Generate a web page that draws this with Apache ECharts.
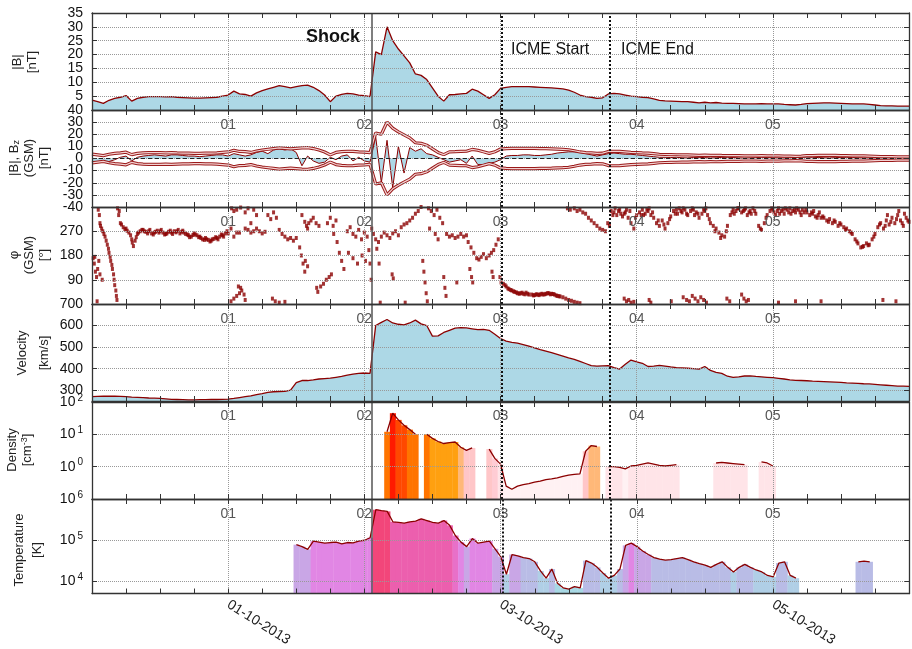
<!DOCTYPE html>
<html>
<head>
<meta charset="utf-8">
<script src="https://cdn.jsdelivr.net/npm/echarts@6.0.0/dist/echarts.min.js"></script>
<style>
  html, body { margin: 0; padding: 0; background: #fff; }
  #chart { width: 912px; height: 649px; }
</style>
</head>
<body>
<div id="chart"></div>
<script>
// hourly samples, hour 0 = 30-09-2013 00:00 UT
const bMag = [
  3.6, 3.0, 2.4, 3.5, 4.2, 4.6, 5.2, 3.2, 4.2, 4.6, 4.8, 4.8,
  4.8, 4.7, 4.8, 4.6, 4.5, 4.4, 4.3, 4.3, 4.4, 4.5, 4.6, 5.0,
  5.4, 6.8, 5.8, 5.6, 5.0, 6.2, 7.0, 7.6, 8.2, 8.8, 8.4, 8.0,
  8.4, 8.8, 9.0, 8.2, 7.0, 5.4, 3.0, 5.0, 5.6, 6.0, 5.8, 5.4,
  5.2, 4.8, 21, 20, 30, 25, 22, 19.5, 17, 13, 12.5, 11,
  8, 5, 3.2, 5.5, 5.6, 5.8, 6, 7.5, 6.8, 5.5, 4.2, 5.5,
  7.8, 8.2, 8.4, 8.4, 8.4, 8.4, 8.3, 8.2, 8.1, 8.0, 7.8, 7.6,
  7.2, 6.4, 5.4, 4.8, 4.6, 4.2, 4.4, 5.8, 6.0, 5.8, 5.4, 5.0,
  4.8, 4.6, 4.5, 4.0, 3.5, 3.3, 3.2, 3.1, 3.0, 3.0, 2.8, 2.6,
  2.8, 2.6, 2.7, 2.5, 2.4, 2.4, 2.3, 2.2, 2.2, 2.2, 2.3, 2.2,
  2.2, 2.2, 2.0, 1.9, 1.8, 2.0, 2.3, 2.4, 2.5, 2.6, 2.6, 2.5,
  2.4, 2.3, 2.2, 2.2, 2.2, 2.0, 1.8, 1.6, 1.5, 1.5, 1.4, 1.4,
  1.4
];
const bz = [
  -3, -2.8, -2.3, -2.5, -1, 1, 2, -2, 1, 2, 2.5, 3,
  2.5, 2, 3, 3, 2.5, 2, 2, 1.5, 2, 2.5, 3, 3,
  2, 4, 3, 2, 3, 5, 6, 4, 7, 8, 7, 8,
  5, -6, 2, -2, -4, -3, 1, -1, 2, 3, -2, 1,
  -2, -3, 18, -20, 15, -24, 10, -12, 9, 6, 8, 4,
  3, 1, -1, -3, -2, -1, -4, 2, -5, -5, -4, -3,
  -1, 2, 2.5, 2.5, 3, 3, 2.5, 2.5, 3, 3.5, 4.5, 5,
  5.5, 5.5, 5, 4, 3, 2, 3, 4, 4.5, 4, 3.5, 3.5,
  3, 2.5, 2, 1.5, 1, 1, 0.8, 1, 0.6, 0.5, 0.8, 1,
  0.7, 0.5, 0.6, 0.9, 1, 0.8, 0.5, 0.3, 0.5, 0.7, 1, 0.8,
  0.6, 0.5, 0.4, 0.6, 0.8, 1, 1.2, 1, 0.8, 0.6, 0.5, 0.7,
  0.9, 1, 0.8, 0.6, 0.5, 0.4, 0.5, 0.7, 0.8, 0.6, 0.5, 0.4,
  0.5
];
const velocity = [
  270, 271, 272, 273, 272, 271, 270, 268, 267, 266, 264, 263,
  262, 260, 258, 257, 256, 255, 255, 256, 256, 257, 257, 258,
  259, 262, 266, 270, 274, 280, 284, 290, 293, 294, 295, 300,
  335, 345, 345, 348, 352, 354, 356, 360, 364, 370, 375, 378,
  380, 378, 600, 615, 628, 612, 606, 603, 612, 625, 608, 600,
  551, 552, 568, 578, 588, 590, 589, 585, 581, 582, 578, 560,
  540, 528, 522, 518, 512, 505, 496, 488, 481, 474, 466, 458,
  450, 443, 434, 424, 414, 412, 413, 414, 405, 398, 420, 440,
  432, 425, 410, 412, 415, 412, 408, 405, 404, 402, 400, 398,
  410, 392, 383, 378, 365, 360, 362, 366, 367, 364, 362, 360,
  358, 355, 352, 348, 346, 345, 344, 342, 341, 340, 339, 338,
  336, 334, 333, 332, 330, 329, 327, 325, 323, 321, 319, 319,
  318
];
const density = [
  null, null, null, null, null, null, null, null, null, null, null, null,
  null, null, null, null, null, null, null, null, null, null, null, null,
  null, null, null, null, null, null, null, null, null, null, null, null,
  null, null, null, null, null, null, null, null, null, null, null, null,
  null, null, null, null, 12, 45, 28, 19, 14, 10, null, 10,
  7.5, 6, 5.2, 5.5, 5.8, 4, 3.2, 3.8, null, null, 3.5, 1.8,
  1.2, 0.25, 0.2, 0.25, 0.28, 0.3, 0.33, 0.36, 0.4, 0.42, 0.45, 0.5,
  0.55, 0.58, 0.6, 3.0, 4.5, 4.2, null, 1.0, 1.0, 0.95, 0.85, 1.05,
  1.1, 1.2, 1.3, 1.2, 1.1, 1.05, 1.1, 1.15, null, null, null, null,
  null, null, 1.3, 1.35, 1.3, 1.25, 1.2, 1.15, null, null, 1.4, 1.3,
  1.05, null, null, null, null, null, null, null, null, null, null, null,
  null, null, null, null, null, null, null, null, null, null, null, null,
  null
];
const temperature = [
  null, null, null, null, null, null, null, null, null, null, null, null,
  null, null, null, null, null, null, null, null, null, null, null, null,
  null, null, null, null, null, null, null, null, null, null, null, null,
  78000, 70000, 60000, 95000, 90000, 85000, 88000, 90000, 82000, 88000, 86000, 95000,
  100000, 115000, 550000, 520000, 500000, 280000, 270000, 260000, 280000, 290000, 330000, 300000,
  270000, 260000, 300000, 230000, 130000, 90000, 70000, 110000, 85000, 90000, 95000, 62000,
  40000, 15000, 45000, 42000, 38000, 36000, 30000, 18000, 12000, 20000, 9000, 7000,
  6500, 7500, 7000, 32000, 28000, 22000, 16000, 12000, 14000, 20000, 75000, 85000,
  70000, 55000, 45000, 38000, 35000, 33000, 34000, 36000, 38000, 34000, 30000, 27000,
  25000, 22000, 26000, 30000, 22000, 17000, 22000, 26000, 22000, 19000, 17000, 14000,
  13000, 28000, 30000, 14000, 12000, null, null, null, null, null, null, null,
  null, null, null, 30000, 31000, 30000, null, null, null, null, null, null,
  null
];
// [hour, degrees]
const phiPoints = [
  [0.2,170],[0.4,150],[0.6,120],[0.8,100],[1.0,130],[1.2,160],[1.4,110],[0.5,175],[0.9,10],[1.1,350],[1.3,330],[1.4,300],
  [1.5,290],[1.9,270],[2.3,250],[2.7,220],[3.0,190],[3.3,160],[3.6,130],[3.9,90],[4.2,50],[4.4,15],[1.8,90],
  [1.7,280],[2.1,260],[2.5,235],[2.9,205],[3.2,175],[3.5,145],[3.8,110],[4.0,70],[4.3,30],
  [4.5,355],[4.7,330],[5.0,300],[5.5,285],[6.0,280],[6.5,265],[7.0,240],[7.3,215],[7.6,235],[8.0,260],[8.5,270],
  [9.0,275],[9.5,268],[10,270],[10.5,262],[11,265],[11.5,272],[12,270],[12.5,265],[13,260],[13.5,268],[14,265],
  [14.5,270],[15,270],[15.5,262],[16,272],[16.5,260],[17,255],[17.5,250],[18,262],[18.5,255],[19,250],[19.5,240],
  [20,245],[20.5,238],[21,235],[21.5,242],[22,245],[22.5,250],[23,255],[23.5,262],[24,262],[24.5,280],[25,250],
  [25.5,265],[26,265],[27,280],[28,300],
  [4.8,345],[5.2,295],[5.8,278],[6.2,272],[6.8,255],[7.1,228],[7.8,248],[8.2,265],[8.8,275],[9.2,270],[9.8,262],
  [10.2,275],[10.8,258],[11.2,268],[11.8,265],[12.2,275],[12.8,258],[13.2,262],[13.8,272],[14.2,260],[14.8,266],
  [15.2,275],[15.8,268],[16.2,265],[16.8,258],[17.2,248],[17.8,256],[18.2,258],[18.8,248],[19.2,245],[19.8,238],
  [20.2,240],[20.8,232],[21.2,240],[21.8,248],[22.2,240],[22.8,258],[23.2,250],[23.8,270],
  [24.6,355],[25,345],[25.5,350],[26.2,358],[27,340],[27.5,355],[28.5,350],[29,330],
  [24.5,10],[25,20],[25.5,30],[26,40],[26.4,50],[26.8,35],[27,15],[25.8,65],[26.2,60],
  [31.8,20],[32.3,10],[33,5],[34,8],
  [27.5,275],[28,265],[28.5,270],[29,280],[29.5,270],[30,262],[30.5,268],
  [31,330],[31.5,315],[32,340],[32.5,320],
  [33,275],[33.5,260],[34,250],[34.5,240],[35,245],[35.5,235],[36,245],
  [36.6,210],[36.9,180],[37.2,150],[37.5,120],
  [37.8,290],[38.2,300],[38.6,310],[39,320],[39.5,300],[40,290],
  [39.6,60],[39.8,45],
  [37,330],[37.5,305],[38,280],[37.6,160],[38,140],
  [40.3,65],[40.8,75],[41.3,90],[41.8,100],[42.2,110],
  [41.5,300],[42,320],[42.5,290],[43,310],
  [42.6,260],[43.2,230],[43.6,190],[44,160],[44.4,130],
  [45,270],[45.5,285],[46,260],[46.5,250],[47,275],[47.5,240],[48,265],
  [45.2,190],[46,170],[46.8,150],[47.6,180],[48.2,160],
  [48.5,250],[48.8,200],[49,150],[49.2,90],[49.3,280],
  [49.6,260],[50,240],[50.5,230],[51,250],[51.5,265],[52,255],[52.5,245],[53,262],[53.5,270],[54,255],
  [50.2,205],[50.6,150],[50.8,5],[55.2,5],[52.9,110],[53.1,95],
  [54.5,285],[55,295],[55.5,300],[56,310],[56.5,320],[57,335],[57.5,345],[58,360],
  [58.3,160],[58.5,120],[58.7,80],[58.9,40],[59.1,10],
  [59.3,355],[59.8,345],[60.3,330],[60.8,350],[61.3,320],[61.8,300],
  [59.5,280],[60.5,260],[61,240],
  [62,100],[62.2,60],[62.4,30],
  [62.5,260],[63,250],[63.5,255],[64,245],[64.5,250],[65,260],[65.5,250],[66,255],
  [64.3,80],
  [66.3,230],[66.8,210],[67.3,190],[67.8,170],[68.2,165],
  [66.6,130],[66.9,100],[67.1,80],
  [68.6,175],[69,185],[69.5,170],[70,180],[70.4,190],
  [70.8,200],[71.2,220],[71.6,240],
  [70.5,120],[70.7,100],
  [71.9,100],[72.1,80],
  [72.5,75],[73,65],[73.5,55],[74,50],[74.5,45],[75,40],[75.5,40],[76,38],[76.5,42],[77,35],
  [72.8,70],[73.3,58],[73.8,52],[74.3,47],[74.8,43],[75.3,38],[75.8,42],[76.3,36],[76.8,38],
  [77.5,35],[78,33],[78.5,35],[79,36],[79.5,35],[80,38],[80.5,40],[81,38],[81.5,35],[82,30],[82.5,28],
  [77.8,32],[78.3,36],[78.8,33],[79.3,38],[79.8,36],[80.3,40],[80.8,36],[81.3,37],[81.8,32],[82.3,29],
  [83,25],[83.5,20],[84,15],[84.5,12],[85,8],[85.5,5],[86,3],
  [83.8,355],[84.3,350],[85,355],[85.5,345],[86,350],[86.5,340],[87,335],[87.5,320],[88,310],[88.5,300],
  [89,290],[89.5,280],[90,275],[90.5,270],[90.9,300],[91.2,290],
  [91.5,345],[92,340],[92.5,330],[93,350],[93.5,325],[94,340],[94.5,320],[95,300],[95.5,280],[96,330],
  [96.5,340],[97,350],[97.5,335],[98,345],[98.5,330],[99,320],[99.5,300],[100,290],[100.5,310],[101,280],
  [101.5,300],[102,325],[102.5,345],[103,350],[103.5,355],[104,340],[104.5,350],[105,330],[105.5,345],[106,350],
  [106.5,340],[107,320],[107.5,335],[108,345],[108.5,330],[109,300],[109.5,290],[110,280],[110.5,265],[111,255],
  [111.5,250],[112,290],[112.5,330],[113,350],[113.5,345],[114,355],[114.5,340],[115,350],[115.5,330],[116,345],
  [116.5,355],[117,335],[117.5,290],[118,275],[118.5,300],[119,330],[119.5,345],[120,350],[120.5,330],[121,355],
  [121.5,345],[122,335],[122.5,350],[123,355],[123.5,345],[124,340],[124.5,350],[125,330],[125.5,340],[126,340],
  [126.5,330],[127,335],[127.5,325],[128,330],[128.5,320],[129,320],[129.5,310],[130,315],[130.5,300],[131,305],
  [131.5,290],[132,295],[132.5,285],[133,280],[133.5,270],[134,260],[134.5,240],[135,225],[135.5,210],[136,215],
  [136.5,225],[137,220],[137.5,240],[138,260],[138.5,285],[139,300],[139.5,280],[140,310],[140.5,295],[141,320],
  [141.5,300],[142,330],[142.5,310],[143,290],[143.5,320],[144,305],
  [92.2,355],[93.2,335],[94.2,350],[97.2,330],[98.2,355],[103.2,335],[104.2,355],[106.2,330],[108.2,355],
  [113.2,335],[115.2,355],[116.2,335],[120.2,340],[121.2,335],[122.2,355],[123.2,335],[124.2,355],[125.2,350],
  [127.2,345],[128.2,340],[140.2,330],[142.2,345],[143.2,335],
  [91.8,330],[92.8,345],[93.8,335],[94.8,345],[95.8,320],[96.8,330],[97.8,350],[98.8,340],[99.8,310],[100.8,295],
  [101.8,315],[102.8,335],[103.8,345],[104.8,335],[105.8,355],[106.8,335],[107.8,350],[108.8,315],[109.8,270],
  [110.8,245],[111.8,270],[112.8,340],[113.8,355],[114.8,345],[115.8,340],[116.8,345],[117.8,280],[118.8,320],
  [119.8,355],[120.8,345],[121.8,350],[122.8,340],[123.8,350],[124.8,340],[125.8,350],[126.8,340],[127.8,320],
  [128.8,325],[129.8,305],[130.8,310],[131.8,300],[132.8,275],[133.8,265],[134.8,232],[135.8,212],[136.8,218],
  [137.8,250],[138.8,295],[139.8,290],[140.8,305],[141.8,315],[142.8,300],[143.8,310],
  [93.8,20],[94.2,10],[94.6,15],[95,5],[95.5,8],[98.2,15],[98.5,5],[102.1,10],[104.2,25],[104.8,15],
  [105.3,10],[105.8,30],[106.3,20],[106.8,10],[107.3,25],[107.8,15],[108.3,5],[111.9,20],[112.4,10],
  [114.5,35],[114.9,20],[115.3,10],[115.7,15],[121,5],[124,10],[128.5,10],[139.4,15],[141.7,10]
];
const eventHours = [49.35, 72.3, 91.3]; // shock, ICME start, ICME end
const dayLabels = ['', '01', '02', '03', '04', '05', ''];
const dateLabels = ['', '01-10-2013', '', '03-10-2013', '', '05-10-2013', ''];
const bzEdgeLabels = [-40, 40];

const font = 'Liberation Sans';
const dark = '#8b0000';
const fillBlue = '#add8e6';
const tops = [13, 110, 207, 304, 402, 499];
const panelH = 97;

const pairs = arr => arr.map((v, i) => [i, v]);
const present = arr => pairs(arr).filter(d => d[1] !== null);

const logLabel = v => {
  const l = Math.log10(v);
  const e = Math.round(l);
  return Math.abs(l - e) < 1e-6 ? '10{sup|' + e + '}' : '';
};

// the Bz panel edge labels (±40) sit on their own axis so they don't knock out ±30
const yDefs = [
  { type: 'value', min: 0, max: 35, interval: 5, hideMin: true },
  { type: 'value', min: -40, max: 40, interval: 10, hideMin: true, hideMax: true },
  { type: 'value', min: 0, max: 360, interval: 90, hideMin: true, hideMax: true },
  { type: 'value', min: 250, max: 700, hideMin: true },
  { type: 'log', min: 0.1, max: 100, hideMin: true },
  { type: 'log', min: 5100, max: 1000000, hideMin: true }
];

const axisLine = { show: true, onZero: false, lineStyle: { color: '#333', width: 1.3 } };
const tick = { show: true, inside: true, length: 5, lineStyle: { color: '#333' } };
const dotted = { show: true, lineStyle: { color: '#999', type: 'dotted', width: 1 } };
const labelFont = { fontFamily: font, fontSize: 14, color: '#111' };

const grids = tops.map(top => ({ left: 92, right: 1, top: top, height: panelH }));

const xAxes = [];
const yAxes = [];
tops.forEach((top, i) => {
  const last = i === tops.length - 1;
  const base = {
    type: 'value', gridIndex: i, min: 0, max: 144, interval: 24, z: 5,
    axisLine: axisLine, axisTick: tick,
    minorTick: { show: true, splitNumber: 4, length: 5, lineStyle: { color: '#333' } }
  };
  xAxes.push(Object.assign({}, base, {
    position: 'bottom',
    splitLine: dotted,
    axisLabel: last
      ? { rotate: -32, margin: 10, fontFamily: font, fontSize: 14, color: '#222', hideOverlap: false,
          formatter: v => dateLabels[Math.round(v / 24)] }
      : { margin: 8, fontFamily: font, fontSize: 14, color: '#555', hideOverlap: false,
          formatter: v => dayLabels[Math.round(v / 24)] }
  }));
  xAxes.push(Object.assign({}, base, {
    position: 'top', axisLabel: { show: false }, splitLine: { show: false }
  }));

  const d = yDefs[i];
  const yBase = {
    type: d.type, gridIndex: i, min: d.min, max: d.max, z: 5,
    axisLine: axisLine, axisTick: tick
  };
  if (d.interval) yBase.interval = d.interval;
  if (d.type === 'log') yBase.logBase = 10;
  yAxes.push(Object.assign({}, yBase, {
    position: 'left',
    splitLine: dotted,
    axisLabel: Object.assign({
      margin: 9, hideOverlap: false,
      showMinLabel: !d.hideMin, showMaxLabel: !d.hideMax,
      formatter: d.type === 'log' ? logLabel : null,
      rich: { sup: { fontFamily: font, fontSize: 10, color: '#111', verticalAlign: 'top', padding: [0, 0, 8, 2] } }
    }, labelFont)
  }));
  yAxes.push(Object.assign({}, yBase, {
    position: 'right', axisLabel: { show: false }, splitLine: { show: false }
  }));
});

// extra label-only axis for ±40 on the Bz panel
yAxes.push({
  type: 'value', gridIndex: 1, position: 'left', min: -40, max: 40, interval: 80, z: 5,
  axisLine: { show: false, onZero: false }, axisTick: { show: false }, splitLine: { show: false },
  axisLabel: Object.assign({
    margin: 9, hideOverlap: false, showMinLabel: true, showMaxLabel: true,
    formatter: v => (bzEdgeLabels.indexOf(v) >= 0 ? String(v) : '')
  }, labelFont)
});

function eventLines(extra) {
  const data = [
    { xAxis: eventHours[0], lineStyle: { color: '#555', width: 1.5, type: 'solid' } },
    { xAxis: eventHours[1], lineStyle: { color: '#111', width: 2, type: [2, 2] } },
    { xAxis: eventHours[2], lineStyle: { color: '#111', width: 2, type: [2, 2] } }
  ];
  return {
    silent: true, symbol: ['none', 'none'], label: { show: false }, animation: false,
    data: extra ? data.concat(extra) : data
  };
}

function colorBars(params, api) {
  const t = api.value(0);
  const v = api.value(1);
  const a = api.coord([t - 0.5, v]);
  const b = api.coord([t + 0.5, v]);
  const cs = params.coordSys;
  return {
    type: 'rect',
    shape: { x: a[0], y: a[1], width: b[0] - a[0] + 0.4, height: cs.y + cs.height - a[1] },
    style: { fill: api.visual('color') }
  };
}

const line = (ax, data, extra) => Object.assign({
  type: 'line', xAxisIndex: ax * 2, yAxisIndex: ax * 2, data: data,
  symbol: 'none', silent: true, connectNulls: false,
  lineStyle: { color: dark, width: 1.3 }
}, extra || {});

const series = [
  line(0, pairs(bMag), { areaStyle: { color: fillBlue, opacity: 1, origin: 'start' }, markLine: eventLines() }),
  line(1, pairs(bz), { lineStyle: { color: dark, width: 1 }, areaStyle: { color: fillBlue, opacity: 1 } }),
  line(1, pairs(bMag), { lineStyle: { color: '#9a1a1a', width: 3.2 } }),
  line(1, pairs(bMag), { lineStyle: { color: '#f3d2d2', width: 1.2 } }),
  line(1, pairs(bMag.map(v => -v)), { lineStyle: { color: '#9a1a1a', width: 3.2 } }),
  line(1, pairs(bMag.map(v => -v)), { lineStyle: { color: '#f3d2d2', width: 1.2 },
    markLine: eventLines([{ yAxis: 0, lineStyle: { color: '#222', width: 1, type: [4, 3] } }]) }),
  {
    type: 'scatter', xAxisIndex: 4, yAxisIndex: 4, data: phiPoints, silent: true,
    symbol: 'rect', symbolSize: [3, 4], itemStyle: { color: dark },
    markLine: eventLines()
  },
  line(3, pairs(velocity), { areaStyle: { color: fillBlue, opacity: 1, origin: 'start' }, markLine: eventLines() }),
  {
    type: 'custom', xAxisIndex: 8, yAxisIndex: 8, data: present(density), silent: true,
    encode: { x: 0, y: 1 }, renderItem: colorBars
  },
  line(4, pairs(density), { markLine: eventLines() }),
  {
    type: 'custom', xAxisIndex: 10, yAxisIndex: 10, data: present(temperature), silent: true,
    encode: { x: 0, y: 1 }, renderItem: colorBars
  },
  line(5, pairs(temperature), { markLine: eventLines() })
];

const nameStyle = (text, x, y, lh) => ({
  type: 'text', x: x, y: y, rotation: Math.PI / 2, silent: true,
  style: {
    text: text, fontFamily: font, fontSize: 13, fill: '#222',
    align: 'center', verticalAlign: 'middle', lineHeight: lh,
    rich: {
      sub: { fontFamily: font, fontSize: 9, fill: '#222', verticalAlign: 'bottom', lineHeight: lh },
      sup: { fontFamily: font, fontSize: 9, fill: '#222', verticalAlign: 'top', lineHeight: lh }
    }
  }
});

const chart = echarts.init(document.getElementById('chart'), null, { renderer: 'canvas' });
chart.setOption({
  animation: false,
  backgroundColor: '#fff',
  grid: grids,
  xAxis: xAxes,
  yAxis: yAxes,
  visualMap: [
    {
      type: 'piecewise', show: false, seriesIndex: 8, dimension: 1,
      pieces: [
        { gte: 30, color: '#ff1a00' },
        { gte: 15, lt: 30, color: '#ff4800' },
        { gte: 9, lt: 15, color: '#ff7400' },
        { gte: 5, lt: 9, color: '#ffa010' },
        { gte: 4, lt: 5, color: '#ffb878' },
        { gte: 2.5, lt: 4, color: '#ffc6c8' },
        { gte: 1.5, lt: 2.5, color: '#ffccd4' },
        { gte: 0.9, lt: 1.5, color: '#ffe4e8' },
        { lt: 0.9, color: '#fff1f3' }
      ]
    },
    {
      type: 'piecewise', show: false, seriesIndex: 10, dimension: 1,
      pieces: [
        { gte: 400000, color: '#f2467a' },
        { gte: 200000, lt: 400000, color: '#ec5fae' },
        { gte: 120000, lt: 200000, color: '#e870c8' },
        { gte: 80000, lt: 120000, color: '#e186e4' },
        { gte: 40000, lt: 80000, color: '#c9a6e6' },
        { gte: 20000, lt: 40000, color: '#b9bce6' },
        { gte: 10000, lt: 20000, color: '#b0cfe6' },
        { lt: 10000, color: '#a8d8e4' }
      ]
    }
  ],
  series: series,
  graphic: [
    nameStyle('|B|\n[nT]', 25, 62, 15),
    nameStyle('|B|, B{sub|z}\n(GSM)\n[nT]', 29, 158, 15),
    nameStyle('φ\n(GSM)\n[°]', 29, 255, 15),
    nameStyle('Velocity\n[km/s]', 33, 353, 22),
    nameStyle('Density\n[cm{sup|-3}]', 20, 450, 15),
    nameStyle('Temperature\n[K]', 28, 550, 18),
    { type: 'text', x: 333, y: 37, silent: true,
      style: { text: 'Shock', fontFamily: font, fontSize: 18, fontWeight: 'bold', fill: '#111', align: 'center', verticalAlign: 'middle' } },
    { type: 'text', x: 511, y: 50, silent: true,
      style: { text: 'ICME Start', fontFamily: font, fontSize: 16, fill: '#111', align: 'left', verticalAlign: 'middle' } },
    { type: 'text', x: 621, y: 50, silent: true,
      style: { text: 'ICME End', fontFamily: font, fontSize: 16, fill: '#111', align: 'left', verticalAlign: 'middle' } }
  ]
});
</script>
</body>
</html>
